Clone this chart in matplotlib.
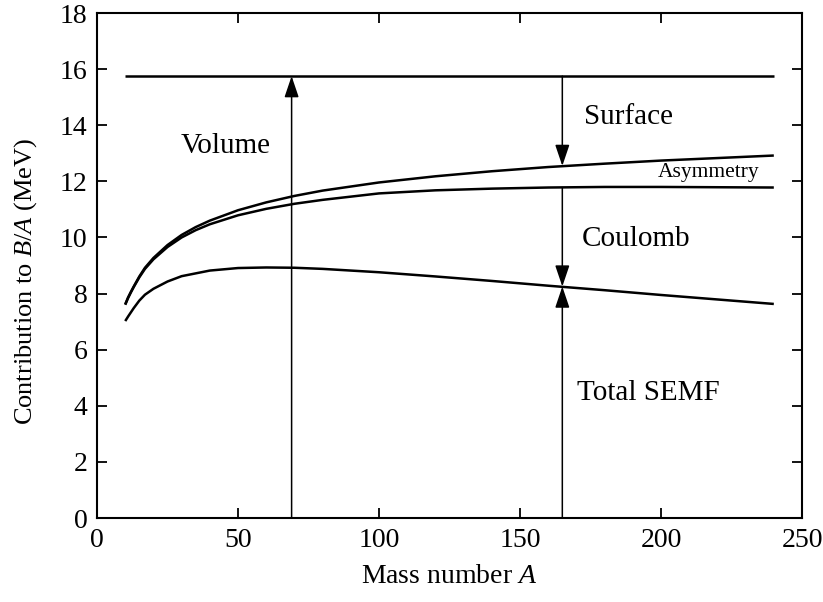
import matplotlib
matplotlib.use("Agg")
import matplotlib.pyplot as plt

# Data
mass_A = [10, 11, 12, 13, 15, 17, 20, 25, 30, 35, 40, 50, 60, 70, 80, 100, 120, 140, 160, 180, 200, 220, 240]
volume = [15.75] * len(mass_A)
minus_surface = [7.62, 7.86, 8.06, 8.25, 8.61, 8.92, 9.27, 9.73, 10.09, 10.37, 10.60, 10.97, 11.25, 11.48, 11.67,
                 11.96, 12.18, 12.36, 12.51, 12.63, 12.74, 12.83, 12.92]
minus_asym = [7.60, 7.84, 8.04, 8.23, 8.58, 8.88, 9.22, 9.66, 10.00, 10.26, 10.47, 10.79, 11.02, 11.20, 11.34,
              11.57, 11.68, 11.74, 11.78, 11.80, 11.80, 11.79, 11.78]
total_semf = [7.02, 7.18, 7.33, 7.48, 7.75, 7.96, 8.17, 8.43, 8.62, 8.72, 8.82, 8.91, 8.93, 8.92, 8.88,
              8.76, 8.61, 8.45, 8.28, 8.12, 7.95, 7.79, 7.63]

# arrows: (A, y_from, y_to)
arrows = [
    (69, 0.0, 15.75),
    (165, 15.75, 12.55),
    (165, 11.78, 8.25),
    (165, 0.0, 8.25),
]
labels = [
    ("Volume", 45.5, 13.25, 21),
    ("Surface", 188.5, 14.29, 21),
    ("Asymmetry", 217, 12.31, 15.5),
    ("Coulomb", 191, 9.94, 21),
    ("Total SEMF", 195.5, 4.45, 21),
]

plt.rcParams['font.family'] = ['Liberation Serif', 'DejaVu Serif']
plt.rcParams['mathtext.fontset'] = 'custom'
plt.rcParams['mathtext.it'] = 'Liberation Serif:italic'
plt.rcParams['mathtext.rm'] = 'Liberation Serif'

fig = plt.figure(figsize=(8.23, 6.02), dpi=100)
ax = fig.add_axes([0.1179, 0.1395, 0.8566, 0.8389])

lw = 1.8
for series in (volume, minus_surface, minus_asym, total_semf):
    ax.plot(mass_A, series, color='black', lw=lw, solid_capstyle='butt')

for xa, y0, y1 in arrows:
    ax.annotate('', xy=(xa, y1), xytext=(xa, y0),
                arrowprops=dict(arrowstyle='-|>,head_length=0.65,head_width=0.22',
                                mutation_scale=20, lw=1.1, color='black',
                                shrinkA=0, shrinkB=0))

for txt, x, y, fs in labels:
    ax.text(x, y, txt, fontsize=fs, ha='center', va='center')

ax.set_xlim(0, 250)
ax.set_ylim(0, 18)
ax.set_xticks(range(0, 251, 50))
ax.set_yticks(range(0, 19, 2))
ax.tick_params(direction='in', length=7, width=1.3, top=True, right=True,
               labelsize=20, pad=7)
for s in ax.spines.values():
    s.set_linewidth(1.5)

ax.set_xlabel('Mass number $A$', fontsize=20, labelpad=8)
ax.set_ylabel('Contribution to $B$/$A$ (MeV)', fontsize=19)
ax.yaxis.set_label_coords(-0.083, 0.469)

fig.savefig('out.png', dpi=100)
